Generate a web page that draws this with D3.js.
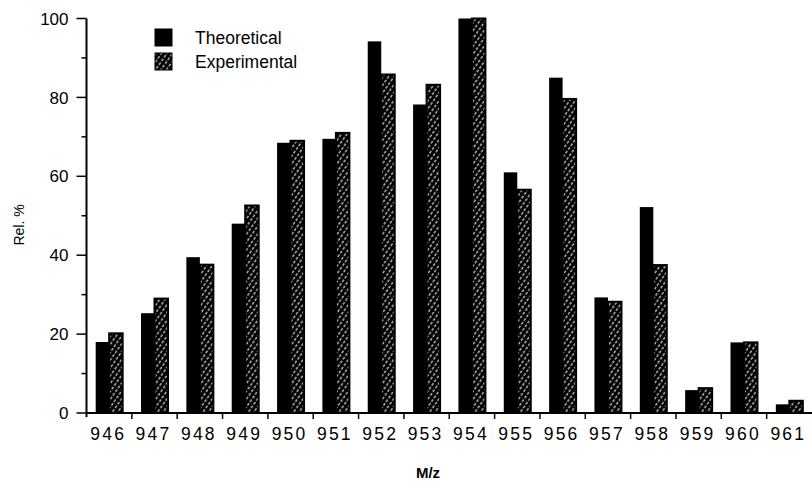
<!DOCTYPE html>
<html>
<head>
<meta charset="utf-8">
<script src="https://cdn.jsdelivr.net/npm/d3@7"></script>
<style>
  body { margin: 0; background: #fff; }
  svg { display: block; font-family: "Liberation Sans", Arial, sans-serif; }
</style>
</head>
<body>
<div id="chart"></div>
<script>
// m/z categories and relative intensities (%)
const masses = ["946", "947", "948", "949", "950", "951", "952", "953",
                "954", "955", "956", "957", "958", "959", "960", "961"];
const theoretical = [18, 25.3, 39.5, 48, 68.5, 69.5, 94.2, 78.2,
                     100, 61, 85, 29.3, 52.2, 5.8, 17.9, 2.2];
const experimental = [20.2, 29, 37.6, 52.6, 69, 71, 85.8, 83.2,
                      100, 56.6, 79.6, 28.2, 37.5, 6.3, 17.9, 3.1];
const seriesNames = ["Theoretical", "Experimental"];
const yMajorTicks = [0, 20, 40, 60, 80, 100];
const yMinorTicks = [10, 30, 50, 70, 90];

const width = 812, height = 481;
const margin = { top: 18.5, right: 0, bottom: 68, left: 86.5 };

const svg = d3.select("#chart").append("svg")
  .attr("width", width)
  .attr("height", height);

// hatch pattern for experimental bars
const defs = svg.append("defs");
const pat = defs.append("pattern")
  .attr("id", "hatch")
  .attr("patternUnits", "userSpaceOnUse")
  .attr("width", 4.5)
  .attr("height", 4.5)
  .attr("patternTransform", "rotate(35)");
pat.append("rect").attr("width", 4.5).attr("height", 4.5).attr("fill", "#000");
pat.append("line")
  .attr("x1", 1).attr("y1", 0).attr("x2", 1).attr("y2", 4.5)
  .attr("stroke", "#f2f2f2")
  .attr("stroke-width", 1.1)
  .attr("stroke-dasharray", "3,1.5");

const x0 = d3.scaleBand()
  .domain(masses)
  .range([margin.left, width - margin.right]);

const x1 = d3.scaleBand()
  .domain(seriesNames)
  .range([0, x0.bandwidth()])
  .paddingOuter(0.68);

const y = d3.scaleLinear()
  .domain([0, 100])
  .range([height - margin.bottom, margin.top]);

const rows = masses.map((m, i) => ({ m, values: [theoretical[i], experimental[i]] }));

// bars
const groups = svg.append("g").selectAll("g")
  .data(rows)
  .join("g")
  .attr("transform", d => `translate(${x0(d.m)},0)`);

groups.selectAll("rect")
  .data(d => d.values.map((v, k) => ({ key: seriesNames[k], v })))
  .join("rect")
  .attr("x", d => x1(d.key))
  .attr("width", x1.bandwidth())
  .attr("y", d => y(d.v))
  .attr("height", d => y(0) - y(d.v))
  .attr("fill", d => d.key === "Theoretical" ? "#000" : "url(#hatch)")
  .attr("stroke", d => d.key === "Theoretical" ? "none" : "#000")
  .attr("stroke-width", 2);

// y axis
const yAxis = svg.append("g")
  .attr("transform", `translate(${margin.left},0)`);
yAxis.append("line")
  .attr("x1", 0).attr("x2", 0)
  .attr("y1", y(0) + 4).attr("y2", y(100))
  .attr("stroke", "#000").attr("stroke-width", 2);
yAxis.selectAll(".major")
  .data(yMajorTicks)
  .join("line")
  .attr("class", "major")
  .attr("x1", -10).attr("x2", 0)
  .attr("y1", d => y(d)).attr("y2", d => y(d))
  .attr("stroke", "#000").attr("stroke-width", 1.5);
yAxis.selectAll(".minor")
  .data(yMinorTicks)
  .join("line")
  .attr("class", "minor")
  .attr("x1", -5).attr("x2", 0)
  .attr("y1", d => y(d)).attr("y2", d => y(d))
  .attr("stroke", "#000").attr("stroke-width", 1.5);
yAxis.selectAll("text")
  .data(yMajorTicks)
  .join("text")
  .attr("x", -18)
  .attr("y", d => y(d))
  .attr("dy", "0.36em")
  .attr("text-anchor", "end")
  .style("font-size", "17px")
  .text(d => d);

// x axis
const xAxis = svg.append("g");
xAxis.append("line")
  .attr("x1", margin.left).attr("x2", width)
  .attr("y1", y(0)).attr("y2", y(0))
  .attr("stroke", "#000").attr("stroke-width", 2);
xAxis.selectAll(".tick")
  .data(masses.slice(1))
  .join("line")
  .attr("class", "tick")
  .attr("x1", d => x0(d)).attr("x2", d => x0(d))
  .attr("y1", y(0)).attr("y2", y(0) + 6)
  .attr("stroke", "#000").attr("stroke-width", 1.5);
xAxis.selectAll("text")
  .data(masses)
  .join("text")
  .attr("x", d => x0(d) + x0.bandwidth() / 2 - 1)
  .attr("y", 440)
  .attr("text-anchor", "middle")
  .style("font-size", "17.5px")
  .style("letter-spacing", "2.2px")
  .text(d => d);

// axis titles
svg.append("text")
  .attr("x", 428)
  .attr("y", 478)
  .attr("text-anchor", "middle")
  .style("font-size", "15px")
  .style("font-weight", "bold")
  .text("M/z");

svg.append("text")
  .attr("transform", "translate(24,225) rotate(-90)")
  .attr("text-anchor", "middle")
  .style("font-size", "14px")
  .text("Rel. %");

// legend
const legend = svg.append("g");
const legendItems = legend.selectAll("g")
  .data(seriesNames)
  .join("g")
  .attr("transform", (d, i) => `translate(155,${29 + i * 24})`);
legendItems.append("rect")
  .attr("width", 17)
  .attr("height", 17)
  .attr("fill", d => d === "Theoretical" ? "#000" : "url(#hatch)")
  .attr("stroke", "#000")
  .attr("stroke-width", 1);
legendItems.append("text")
  .attr("x", 40)
  .attr("y", 15)
  .style("font-size", "17.5px")
  .text(d => d);
</script>
</body>
</html>
